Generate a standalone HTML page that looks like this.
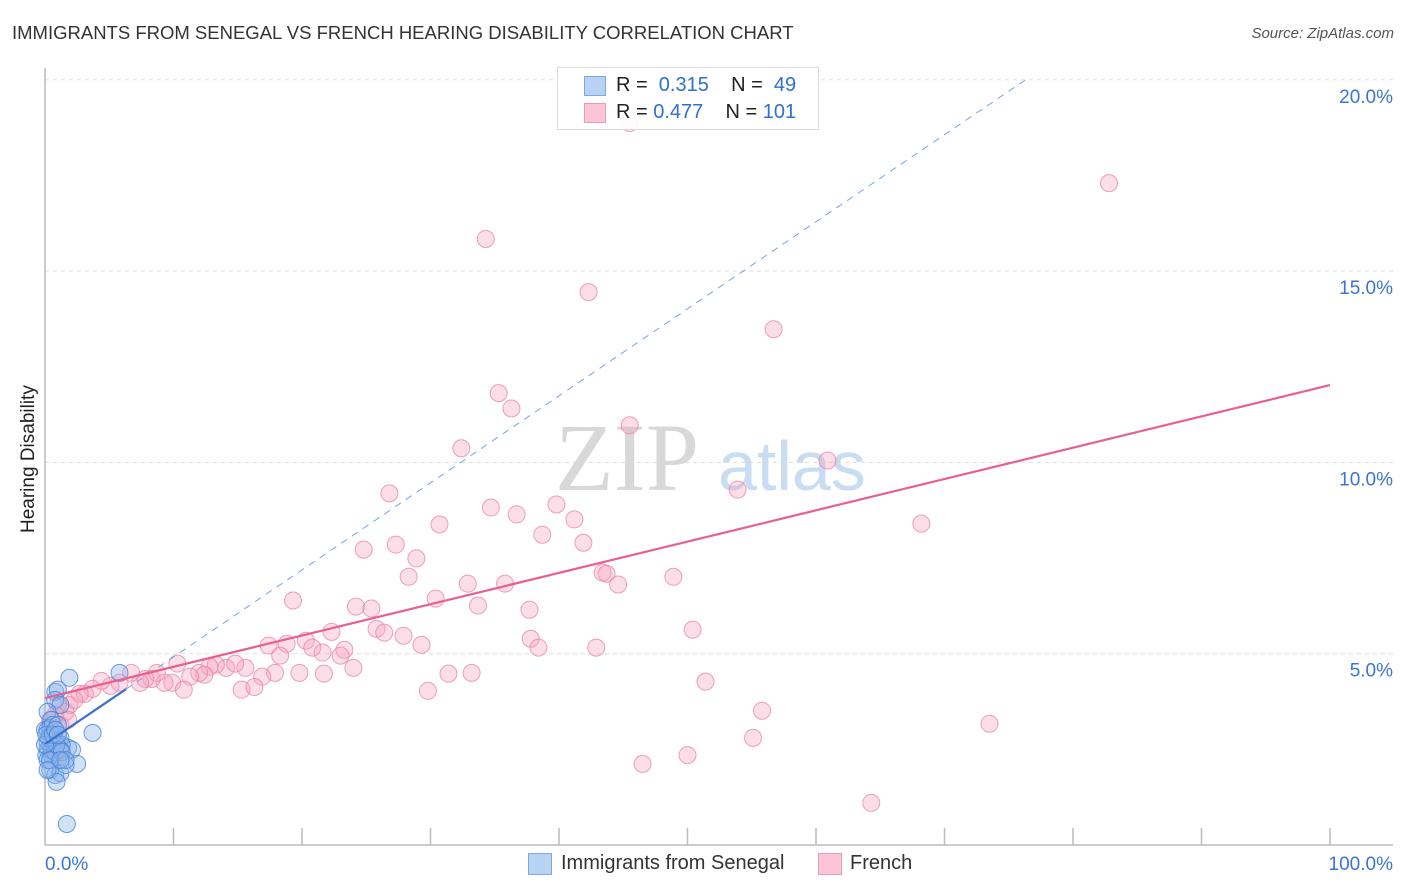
<!DOCTYPE html>
<html><head><meta charset="utf-8">
<style>
body{margin:0;background:#fff;font-family:"Liberation Sans",sans-serif;}
#wrap{position:relative;width:1406px;height:892px;overflow:hidden;}
.t{position:absolute;white-space:nowrap;}
</style></head>
<body>
<div id="wrap">
<div class="t" style="left:12px;top:22px;font-size:18.5px;color:#333;">IMMIGRANTS FROM SENEGAL VS FRENCH HEARING DISABILITY CORRELATION CHART</div>
<div class="t" style="right:12px;top:25px;font-size:15px;color:#555;font-style:italic;">Source: ZipAtlas.com</div>
<div class="t" style="left:8px;top:455px;font-size:19px;color:#222;transform:rotate(-90deg);transform-origin:left top;"><span style="position:relative;top:10px;left:-78px">Hearing Disability</span></div>
<svg id="svg" width="1406" height="892" style="position:absolute;left:0;top:0"></svg>
<div class="t" style="left:557px;top:67px;width:260px;height:61px;border:1px solid #ddd;background:rgba(255,255,255,0.9);">
 <div style="position:absolute;left:26px;top:8px;width:20px;height:18px;background:#b8d2f4;border:1px solid #7fa8e0"></div>
 <div style="position:absolute;left:26px;top:35px;width:20px;height:18px;background:#fac6d6;border:1px solid #ee9ab6"></div>
 <div class="t" style="left:58px;top:6px;font-size:20px;color:#222">R = &nbsp;<span style="color:#2f6fd0">0.315</span>&nbsp;&nbsp;&nbsp; N = &nbsp;<span style="color:#2f6fd0">49</span></div>
 <div class="t" style="left:58px;top:33px;font-size:20px;color:#222">R = <span style="color:#2f6fd0">0.477</span>&nbsp;&nbsp;&nbsp; N = <span style="color:#2f6fd0">101</span></div>
</div>
<div class="t" style="left:528px;top:853px;width:22px;height:20px;background:#b8d2f4;border:1px solid #7fa8e0"></div>
<div class="t" style="left:561px;top:852px;font-size:20px;color:#333">Immigrants from Senegal</div>
<div class="t" style="left:818px;top:853px;width:22px;height:20px;background:#fac6d6;border:1px solid #ee9ab6"></div>
<div class="t" style="left:850px;top:852px;font-size:20px;color:#333">French</div>
</div>
<script>
const senegalX=[0.8,1.0,1.9,0.8,1.2,0.2,0.5,0,0.4,0.8,1.2,1.8,2.1,3.7,5.8,0.4,0.2,0.5,1.0,1.3,0.4,0.8,1.2,2.5,1.6,0.9,1.7,0.2,0.4,0.6,1.0,0.1,0.2,0.5,0.8,1.2,0.2,0.3,0.9,1.3,1.6,0,0.4,0.1,0.6,0.8,1.0,1.2,0.2];
const senegalY=[4.0,4.06,4.37,3.79,3.66,3.48,3.27,3.01,2.88,2.75,2.8,2.54,2.49,2.93,4.5,2.62,2.49,2.35,2.22,2.62,1.96,1.83,1.88,2.12,2.09,1.65,0.55,3.01,3.06,3.14,3.14,2.35,2.22,2.49,2.43,2.49,2.7,2.8,2.62,2.43,2.22,2.62,2.22,2.88,2.88,3.01,2.88,2.22,1.96];
const frenchX=[45.5,82.8,34.3,42.3,56.7,35.3,36.3,45.5,32.4,60.9,53.9,26.8,68.2,34.7,39.8,36.7,30.7,41.2,38.7,41.9,24.8,27.3,28.9,28.3,43.4,43.7,48.9,44.6,32.9,35.8,19.3,30.4,33.7,24.2,25.4,37.7,22.3,25.8,26.4,27.9,50.4,37.8,38.4,42.9,17.4,18.8,20.3,20.8,21.6,18.3,23.3,23.0,29.3,24.0,31.4,33.2,19.8,21.7,17.9,51.4,29.8,16.9,15.3,16.3,15.6,14.1,13.3,12.8,14.8,12.4,12.0,11.3,10.3,9.9,10.8,9.3,8.7,8.3,7.8,7.4,6.7,5.8,5.1,4.4,3.7,3.1,2.7,55.8,73.5,55.1,50.0,46.5,64.3,1.9,1.6,1.0,2.3,1.8,1.2,0.8,0.4];
const frenchY=[18.87,17.3,15.84,14.45,13.48,11.81,11.41,10.97,10.37,10.05,9.29,9.19,8.4,8.82,8.9,8.64,8.38,8.51,8.11,7.9,7.72,7.85,7.49,7.01,7.12,7.09,7.01,6.81,6.83,6.83,6.39,6.44,6.26,6.23,6.18,6.15,5.57,5.65,5.55,5.47,5.63,5.39,5.16,5.16,5.21,5.26,5.34,5.16,5.03,4.95,5.1,4.95,5.23,4.63,4.48,4.5,4.5,4.48,4.5,4.27,4.03,4.4,4.06,4.13,4.63,4.63,4.71,4.66,4.74,4.45,4.5,4.4,4.74,4.24,4.06,4.24,4.5,4.34,4.34,4.24,4.5,4.24,4.16,4.29,4.08,3.95,3.95,3.51,3.17,2.8,2.35,2.12,1.1,3.66,3.48,3.66,3.79,3.27,3.14,3.4,3.27];
const yTicks=[5,10,15,20];
const xTickLabels=["0.0%","100.0%"];
const frenchTrend=[3.84,12.02];      // y at x=0 and x=100
const senegalTrend=[2.64,0.2275,6.3,76.3]; // intercept, slope, solid end, dashed end

const svg=document.getElementById('svg');
const NS='http://www.w3.org/2000/svg';
const X=v=>45+v*12.85, Y=v=>845-v*38.26;
function mk(tag,attrs){const e=document.createElementNS(NS,tag);for(const k in attrs)e.setAttribute(k,attrs[k]);svg.appendChild(e);return e;}
yTicks.forEach(t=>{
  const g=mk('line',{x1:45,x2:1393,y1:Y(t),y2:Y(t),stroke:'#ddd','stroke-dasharray':'4,4'});
  
  
  const l=mk('text',{x:1393,y:Y(t)+23,'text-anchor':'end','font-size':19,fill:'#3b74d4','font-family':'Liberation Sans'});
  l.textContent=t.toFixed(1)+'%';
  
  
});
const ax=mk('line',{x1:45,x2:1393,y1:845,y2:845,stroke:'#bbb','stroke-width':1.5});


const ay=mk('line',{x1:45,x2:45,y1:68,y2:845,stroke:'#bbb','stroke-width':1.5});


for(let i=1;i<=10;i++){
  const tk=mk('line',{x1:X(i*10),x2:X(i*10),y1:828,y2:845,stroke:'#bbb','stroke-width':1.5});
  
  
}
[[45,'start',0],[1393,'end',1]].forEach(([x,a,i])=>{
  const l=mk('text',{x:x,y:870,'text-anchor':a,'font-size':19,fill:'#3b74d4','font-family':'Liberation Sans'});
  l.textContent=xTickLabels[i];
  
  
});
const w1=mk('text',{x:555,y:490,'font-size':96,fill:'#d8d8d8','font-family':'Liberation Serif'});
w1.textContent='ZIP';


const w2=mk('text',{x:718,y:490,'font-size':70,fill:'#c8dcf2','font-family':'Liberation Sans'});
w2.textContent='atlas';


frenchX.forEach((x,i)=>{
  const c=mk('circle',{cx:X(x),cy:Y(frenchY[i]),r:8.5,fill:'rgba(245,160,190,0.35)',stroke:'rgba(232,130,165,0.75)','stroke-width':1});
  
  
});
senegalX.forEach((x,i)=>{
  const c=mk('circle',{cx:X(x),cy:Y(senegalY[i]),r:8.5,fill:'rgba(140,180,235,0.4)',stroke:'rgba(70,130,215,0.8)','stroke-width':1});
  
  
});
const sd=mk('line',{x1:X(senegalTrend[2]),y1:Y(senegalTrend[0]+senegalTrend[1]*senegalTrend[2]),x2:X(senegalTrend[3]),y2:Y(senegalTrend[0]+senegalTrend[1]*senegalTrend[3]),stroke:'#7aa3e0','stroke-width':1,'stroke-dasharray':'7,6'});


const ft=mk('line',{x1:X(0),y1:Y(frenchTrend[0]),x2:X(100),y2:Y(frenchTrend[1]),stroke:'#e8608c','stroke-width':2.2});


const st=mk('line',{x1:X(0),y1:Y(senegalTrend[0]),x2:X(senegalTrend[2]),y2:Y(senegalTrend[0]+senegalTrend[1]*senegalTrend[2]),stroke:'#3a6fd0','stroke-width':2.2});


</script>
</body></html>
